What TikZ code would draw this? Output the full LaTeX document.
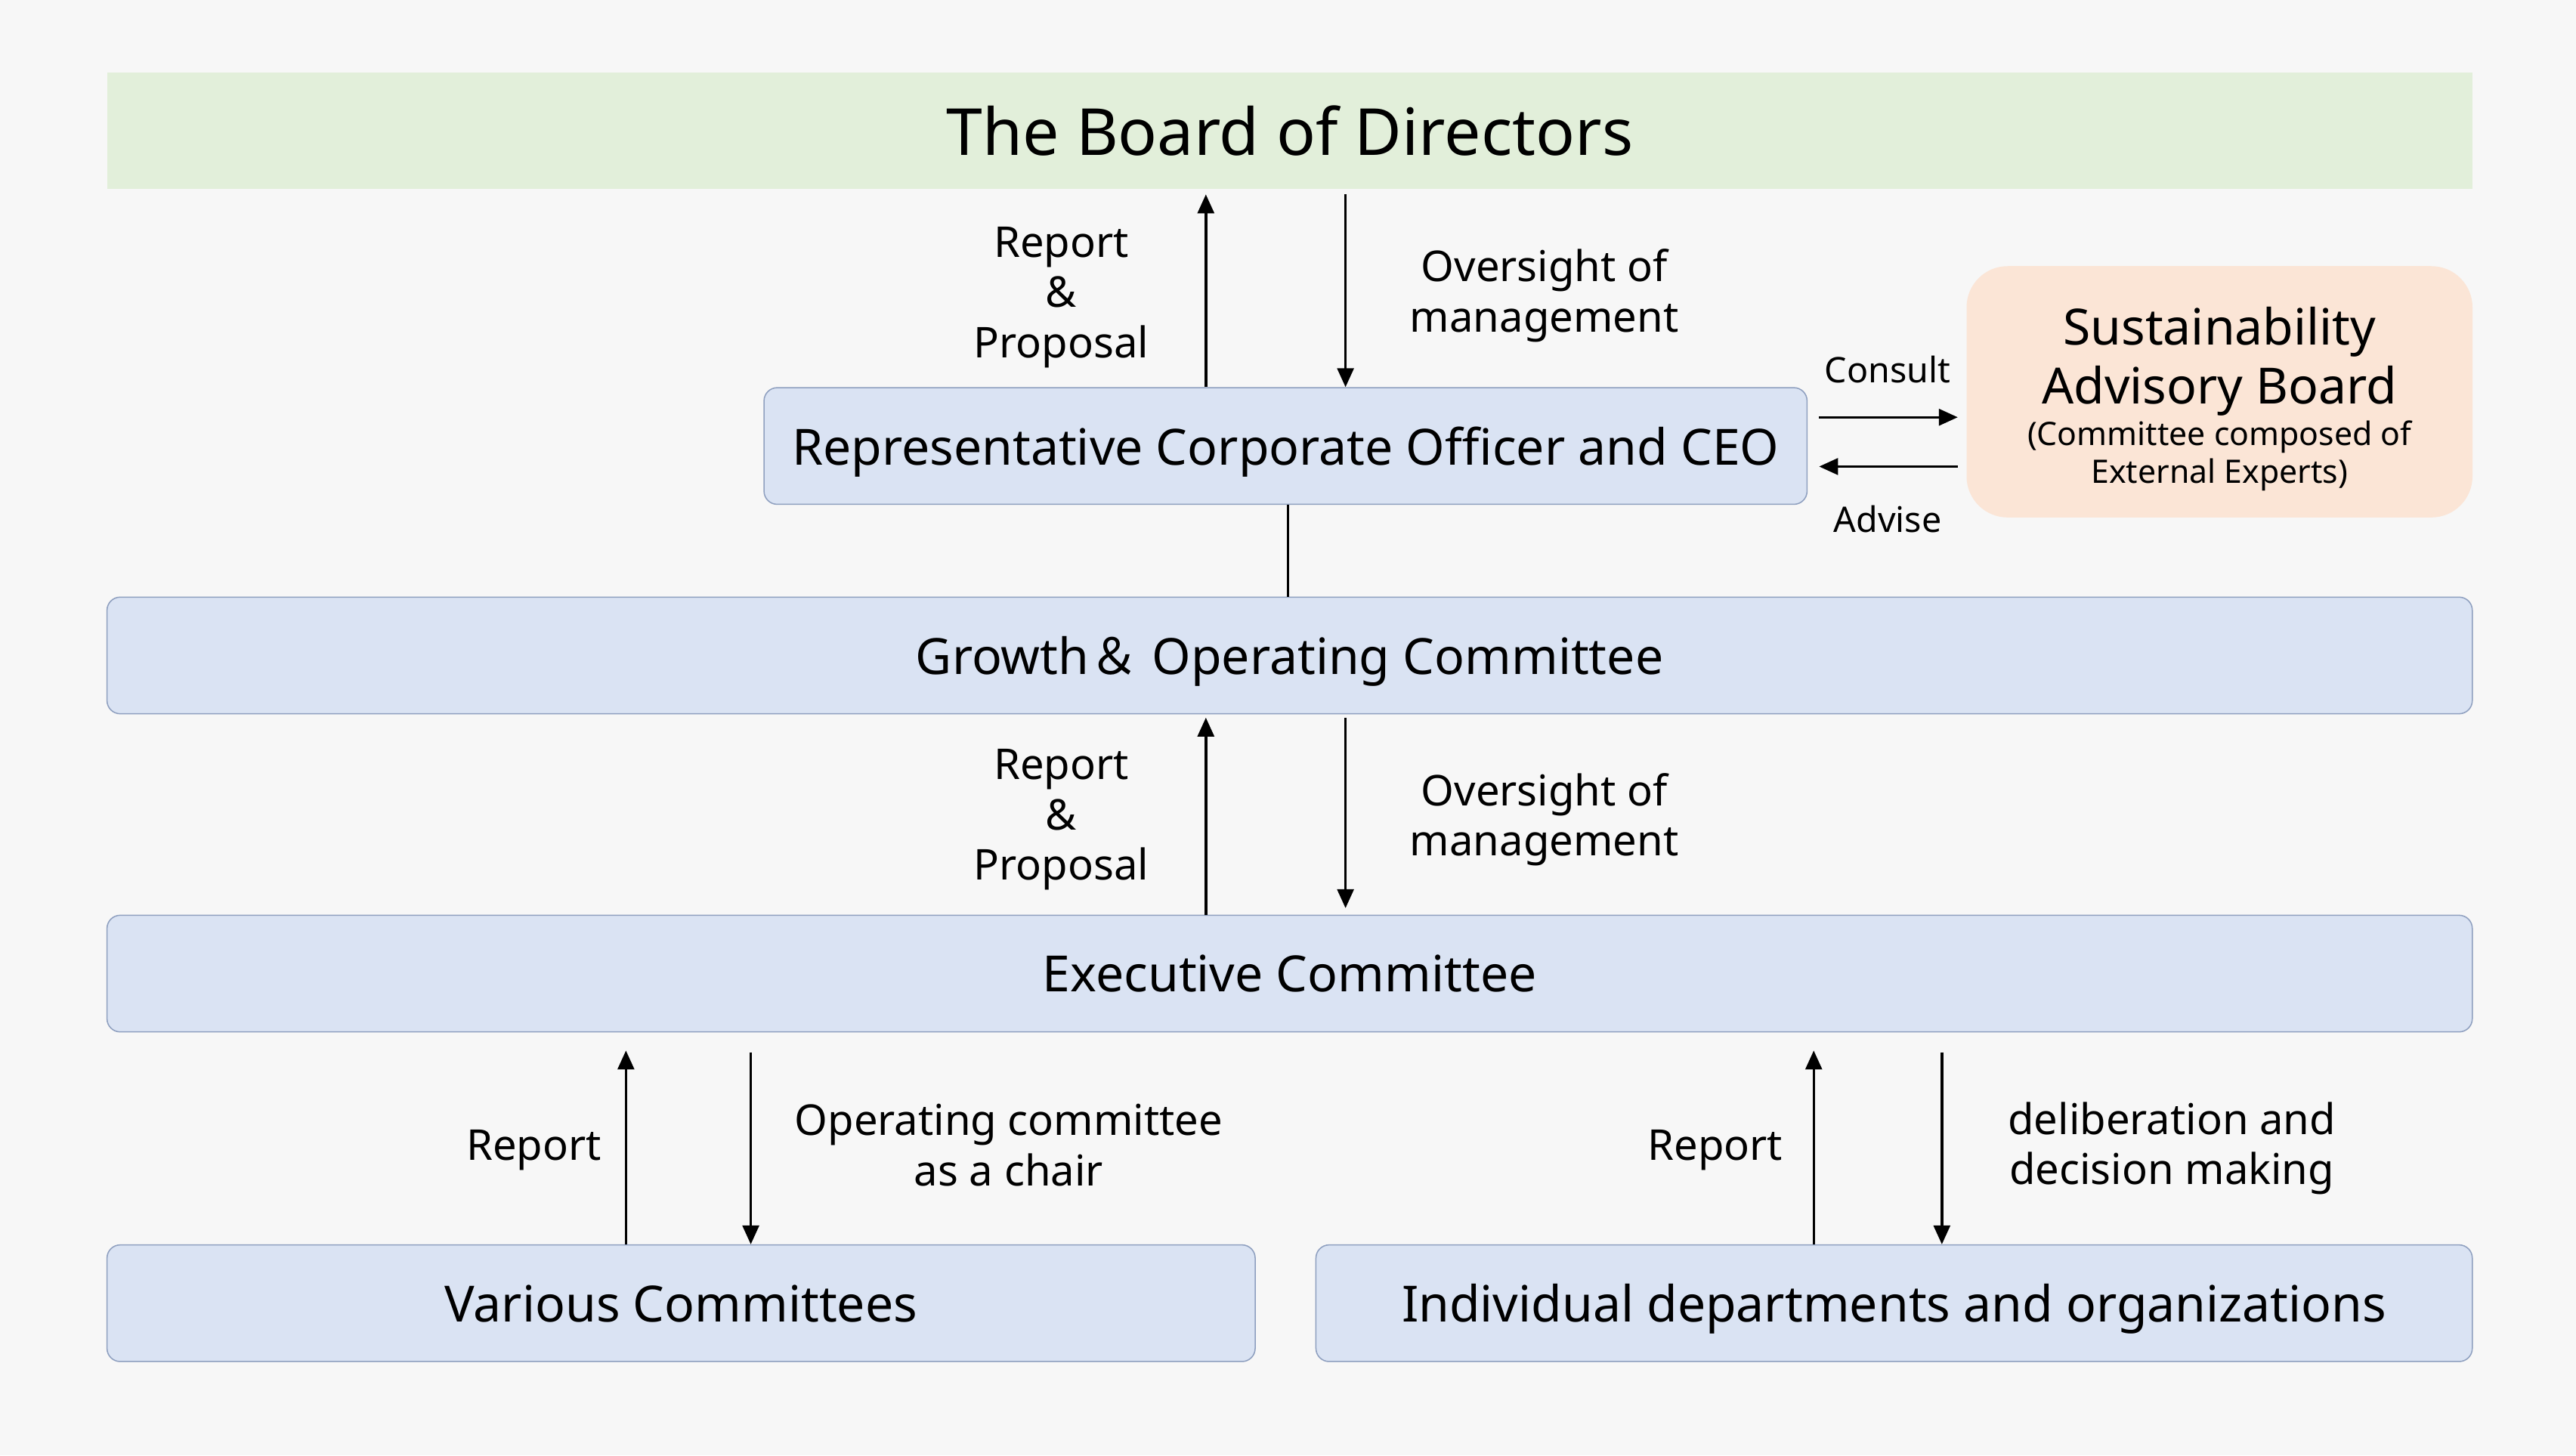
\documentclass[tikz,border=0pt]{standalone}
\usepackage{fontspec}
\setmainfont{Noto Sans}
\newfontfamily\jpfont{Noto Sans CJK JP}
\usetikzlibrary{positioning, arrows.meta}

\definecolor{bgcol}{HTML}{F7F7F7}
\definecolor{boardgreen}{HTML}{E2EFDA}
\definecolor{boxblue}{HTML}{DAE3F3}
\definecolor{boxline}{HTML}{8E9FBF}
\definecolor{sabpeach}{HTML}{FBE5D6}

\tikzset{
  orgbox/.style={draw=boxline, line width=0.4pt, fill=boxblue, rounded corners=0.16cm, minimum height=1.42cm, inner sep=0pt, text depth=0pt, font=\fontsize{17.3}{21}\selectfont},
  lbl/.style={inner sep=0pt, align=center, font=\fontsize{14.7}{17.4}\selectfont},
  lblsmall/.style={inner sep=0pt, font=\fontsize{12.2}{14}\selectfont},
  flow/.style={->, line width=0.9pt},
}

\begin{document}
\begin{tikzpicture}[x=0.02cm, y=-0.02cm, >={Triangle[length=0.23cm, width=0.2cm]}]
\fill[bgcol] (0,0) rectangle (1568,886);

\node (board) [fill=boardgreen, minimum width=28.8cm, minimum height=1.42cm, inner sep=0pt, font=\fontsize{22.5}{26}\selectfont] at (785,79.5) {The Board of Directors};
\node (ceo) [orgbox, minimum width=12.7cm] at (782.5,271.5) {Representative Corporate Officer and CEO};
\node (sab) [fill=sabpeach, rounded corners=0.5cm, minimum width=6.16cm, minimum height=3.06cm, inner sep=0pt, align=center, font=\fontsize{17.3}{20.5}\selectfont] at (1351,238.5) {\mbox{}\\[-2.4pt]Sustainability\\Advisory Board\\[-6.3pt]{\fontsize{11.2}{13}\selectfont (Committee composed of}\\[-7.4pt]{\fontsize{11.2}{13}\selectfont External Experts)}};
\node (goc) [orgbox, minimum width=28.8cm] at (785,399) {Growth{\jpfont ＆} Operating Committee};
\node (exec) [orgbox, minimum width=28.8cm, below=2.44cm of goc] {Executive Committee};
\node (various) [orgbox, minimum width=13.98cm, below right=2.58cm and 0cm of exec.south west] {Various Committees};
\node (depts) [orgbox, minimum width=14.08cm, below left=2.58cm and 0cm of exec.south east] {Individual departments and organizations};

% labels
\node (rp1) [lbl] at (646,181) {Report\\\&\\Proposal};
\node (ov1) [lbl] at (940,180) {Oversight of\\management};
\node (cs) [lblsmall] at (1149,225) {Consult};
\node (ad) [lblsmall] at (1149,316) {Advise};
\node (rp2) [lbl] at (646,499) {Report\\\&\\Proposal};
\node (ov2) [lbl] at (940,499) {Oversight of\\management};
\node (rp3) [lbl] at (325,700) {Report};
\node (oc) [lbl] at (614,697) {Operating committee\\as a chair};
\node (rp4) [lbl] at (1044,700) {Report};
\node (dd) [lbl] at (1322,699) {deliberation and\\decision making};

% connectors
\draw[flow, shorten >=0.06cm] (ceo.north -| 734,0) -- (board.south -| 734,0);
\draw[flow, shorten <=0.06cm] (board.south -| 819,0) -- (ceo.north -| 819,0);
\draw[flow, shorten <=0.14cm, shorten >=0.1cm] (ceo.east |- 0,254) -- (sab.west |- 0,254);
\draw[flow, shorten <=0.1cm, shorten >=0.14cm] (sab.west |- 0,284) -- (ceo.east |- 0,284);
\draw[line width=0.9pt] (ceo.south -| 784,0) -- (goc.north -| 784,0);
\draw[flow, shorten >=0.04cm] (exec.north -| 734,0) -- (goc.south -| 734,0);
\draw[flow, shorten <=0.04cm, shorten >=0.08cm] (goc.south -| 819,0) -- (exec.north -| 819,0);
\draw[flow, shorten >=0.22cm] (various.north -| 381,0) -- (exec.south -| 381,0);
\draw[flow, shorten <=0.24cm] (exec.south -| 457,0) -- (various.north -| 457,0);
\draw[flow, shorten >=0.22cm] (depts.north -| 1104,0) -- (exec.south -| 1104,0);
\draw[flow, shorten <=0.24cm] (exec.south -| 1182,0) -- (depts.north -| 1182,0);
\end{tikzpicture}
\end{document}
